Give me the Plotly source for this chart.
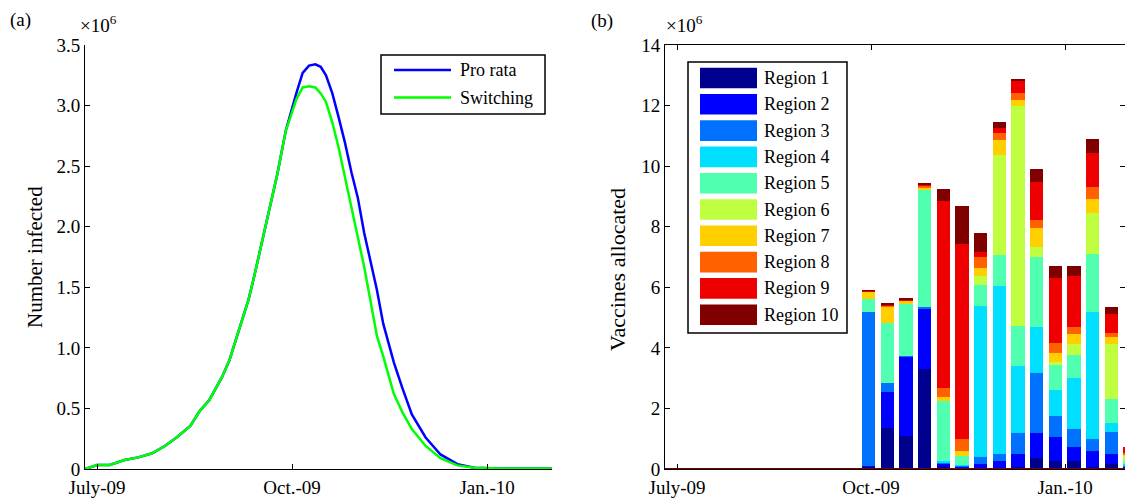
import plotly.graph_objects as go

W, H = 1125, 498


def fx(px):
    return px / W


def fy(py):
    return 1 - py / H


# ---------------- data: panel (a) ----------------
# days since 1 July 2009
days = [-5.5, 0, 6, 13, 19.5, 26, 32, 37.5, 44, 48.5, 53, 59, 62.5, 67, 71.5, 74, 78,
        81.5, 85, 89, 91.5, 94, 97, 100, 103, 105.5, 108, 111, 114, 117, 120, 123,
        126, 129.5, 132, 135, 140, 144, 148.5, 155, 162, 170, 178, 190, 200, 214.5]
pro_rata = [0, 0.033, 0.033, 0.074, 0.096, 0.13, 0.19, 0.26, 0.355, 0.48, 0.57, 0.76,
            0.9, 1.15, 1.4, 1.58, 1.89, 2.14, 2.43, 2.79, 2.95, 3.1, 3.27, 3.33, 3.34,
            3.32, 3.25, 3.1, 2.9, 2.69, 2.45, 2.24, 1.95, 1.68, 1.48, 1.2, 0.88, 0.67,
            0.45, 0.26, 0.12, 0.04, 0.01, 0.005, 0.005, 0.005]
switching = [0, 0.033, 0.033, 0.074, 0.096, 0.13, 0.19, 0.26, 0.355, 0.48, 0.57, 0.76,
             0.9, 1.15, 1.4, 1.58, 1.89, 2.14, 2.43, 2.79, 2.93, 3.05, 3.15, 3.16, 3.15,
             3.1, 3.03, 2.86, 2.65, 2.4, 2.15, 1.91, 1.67, 1.34, 1.1, 0.93, 0.62, 0.47,
             0.33, 0.19, 0.09, 0.03, 0.01, 0.005, 0.005, 0.005]
series_names = ["Pro rata", "Switching"]
series_colors = ["#0000FF", "#00FF00"]

x_tick_vals = [0, 92, 184]
x_tick_text = ["July-09", "Oct.-09", "Jan.-10"]
a_y_vals = [0, 0.5, 1.0, 1.5, 2.0, 2.5, 3.0, 3.5]
a_y_text = ["0", "0.5", "1.0", "1.5", "2.0", "2.5", "3.0", "3.5"]
b_y_vals = [0, 2, 4, 6, 8, 10, 12, 14]
b_y_text = ["0", "2", "4", "6", "8", "10", "12", "14"]

# ---------------- data: panel (b) ----------------
week_days = [-6.45, 2.4, 11.25, 20.1, 28.95, 37.8, 46.65, 55.5, 64.35, 73.2, 82.05,
             90.9, 99.75, 108.6, 117.45, 126.3, 135.15, 144.0, 152.85, 161.7, 170.55,
             179.4, 188.25, 197.1, 205.95, 214.5]
week_zero = [0] * len(week_days)
bar_days = [90.9, 99.75, 108.6, 117.45, 126.3, 135.15, 144.0, 152.85, 161.7, 170.55,
            179.4, 188.25, 197.1, 205.95, 214.5]

region_names = ["Region 1", "Region 2", "Region 3", "Region 4", "Region 5",
                "Region 6", "Region 7", "Region 8", "Region 9", "Region 10"]
region_colors = ["#00008F", "#0000FF", "#0070FF", "#00DFFF", "#50FFAF",
                 "#BFFF40", "#FFCF00", "#FF6000", "#EF0000", "#800000"]

region1 = [0.08, 1.34, 1.09, 3.29, 0.05, 0.03, 0.02, 0.01, 0.05, 0.37, 0.26, 0.26, 0.08, 0.17, 0.02]
region2 = [0.02, 1.21, 2.62, 1.98, 0.10, 0.04, 0.16, 0.25, 0.45, 0.83, 0.81, 0.48, 0.51, 0.33, 0.05]
region3 = [5.10, 0.30, 0.02, 0.09, 0.08, 0.03, 0.23, 0.23, 0.68, 1.96, 0.68, 0.57, 0.39, 0.73, 0.05]
region4 = [0.00, 0.00, 0.00, 0.00, 0.05, 0.03, 4.98, 5.54, 2.22, 1.54, 0.86, 1.70, 4.21, 0.28, 0.06]
region5 = [0.40, 1.98, 1.73, 3.85, 1.95, 0.31, 0.68, 1.03, 1.32, 2.31, 0.82, 0.75, 1.91, 0.80, 0.10]
region6 = [0.00, 0.00, 0.00, 0.00, 0.00, 0.00, 0.30, 3.30, 7.28, 0.33, 0.11, 0.37, 1.36, 1.82, 0.15]
region7 = [0.25, 0.55, 0.10, 0.10, 0.15, 0.16, 0.28, 0.51, 0.20, 0.61, 0.30, 0.33, 0.45, 0.22, 0.05]
region8 = [0.02, 0.03, 0.02, 0.04, 0.29, 0.40, 0.36, 0.22, 0.22, 0.27, 0.31, 0.24, 0.41, 0.13, 0.04]
region9 = [0.02, 0.02, 0.02, 0.04, 6.19, 6.44, 0.16, 0.17, 0.42, 1.27, 2.17, 1.67, 1.10, 0.64, 0.20]
region10 = [0.02, 0.03, 0.03, 0.03, 0.39, 1.23, 0.63, 0.20, 0.05, 0.40, 0.39, 0.34, 0.46, 0.22, 0.00]
regions = [region1, region2, region3, region4, region5,
           region6, region7, region8, region9, region10]

FONT = "Liberation Serif"

fig = go.Figure()

# panel (a) curves
for vals, name, col in zip([pro_rata, switching], series_names, series_colors):
    fig.add_trace(go.Scatter(x=days, y=vals, mode="lines", name=name,
                             line=dict(color=col, width=2.5),
                             xaxis="x", yaxis="y", showlegend=False))

# panel (b) stacked bars
for vals, name, col in zip(regions, region_names, region_colors):
    fig.add_trace(go.Bar(x=bar_days, y=vals, name=name, width=6.4,
                         marker=dict(color=col, line=dict(width=0)),
                         xaxis="x2", yaxis="y2", showlegend=False))

# zero-height weekly bars show as a dark-red line on the baseline
fig.add_trace(go.Scatter(x=week_days, y=week_zero, mode="lines",
                         line=dict(color=region_colors[-1], width=2),
                         xaxis="x2", yaxis="y2", showlegend=False, hoverinfo="skip"))

axis_common = dict(showline=True, linecolor="black", linewidth=1, ticks="inside",
                   ticklen=5, tickwidth=1, tickcolor="black", showgrid=False,
                   zeroline=False, automargin=False,
                   tickfont=dict(family=FONT, size=19, color="black"))

fig.update_layout(
    width=W, height=H, margin=dict(l=0, r=0, t=0, b=0),
    paper_bgcolor="white", plot_bgcolor="white",
    font=dict(family=FONT, size=19, color="black"),
    barmode="stack", bargap=0,
    xaxis=dict(domain=[fx(85), fx(552)], range=[-5.66, 214.6], anchor="y",
               tickvals=x_tick_vals, ticktext=x_tick_text, ticklabelstandoff=1,
               **axis_common),
    yaxis=dict(domain=[fy(469), fy(45)], range=[0, 3.5], anchor="x",
               tickvals=a_y_vals, ticktext=a_y_text, **axis_common),
    xaxis2=dict(domain=[fx(665), 1.0], range=[-5.7, 212.4], anchor="y2",
                tickvals=x_tick_vals, ticktext=x_tick_text, mirror="ticks",
                ticklabelstandoff=1, layer="below traces", **axis_common),
    yaxis2=dict(domain=[fy(469), fy(45)], range=[0, 14], anchor="x2",
                tickvals=b_y_vals, ticktext=b_y_text, mirror="ticks", **axis_common),
)

shapes = []
annotations = []

# panel labels, exponent labels, axis titles
annotations += [
    dict(text="(a)", x=fx(8), y=fy(20), xanchor="left", yanchor="middle",
         font=dict(size=19)),
    dict(text="(b)", x=fx(589), y=fy(21), xanchor="left", yanchor="middle",
         font=dict(size=19)),
    dict(text="×10<sup>6</sup>", x=fx(78), y=fy(24), xanchor="left", yanchor="middle",
         font=dict(size=19)),
    dict(text="×10<sup>6</sup>", x=fx(664), y=fy(24), xanchor="left", yanchor="middle",
         font=dict(size=19)),
    dict(text="Number infected", x=fx(35), y=fy(257), textangle=-90,
         xanchor="center", yanchor="middle", font=dict(size=21)),
    dict(text="Vaccines allocated", x=fx(617), y=fy(270), textangle=-90,
         xanchor="center", yanchor="middle", font=dict(size=22)),
]

# legend (a)
shapes.append(dict(type="rect", xref="paper", yref="paper",
                   x0=fx(381), x1=fx(545), y0=fy(114), y1=fy(55),
                   line=dict(color="black", width=1.5), fillcolor="white"))
for i, (name, col) in enumerate(zip(series_names, series_colors)):
    yc = 70 + 27.5 * i
    shapes.append(dict(type="line", xref="paper", yref="paper",
                       x0=fx(394), x1=fx(451), y0=fy(yc), y1=fy(yc),
                       line=dict(color=col, width=2.5)))
    annotations.append(dict(text=name, x=fx(458), y=fy(yc), xanchor="left",
                            yanchor="middle", font=dict(size=18)))

# legend (b)
shapes.append(dict(type="rect", xref="paper", yref="paper",
                   x0=fx(688), x1=fx(847), y0=fy(333), y1=fy(62),
                   line=dict(color="black", width=1.5), fillcolor="white"))
for i, (name, col) in enumerate(zip(region_names, region_colors)):
    yc = 78 + 26.3 * i
    shapes.append(dict(type="rect", xref="paper", yref="paper",
                       x0=fx(700), x1=fx(757), y0=fy(yc + 10.3), y1=fy(yc - 10.3),
                       line=dict(width=0), fillcolor=col))
    annotations.append(dict(text=name, x=fx(762), y=fy(yc), xanchor="left",
                            yanchor="middle", font=dict(size=18)))

for a in annotations:
    a.update(xref="paper", yref="paper", showarrow=False)

fig.update_layout(shapes=shapes, annotations=annotations)

fig.write_html("out.html")
